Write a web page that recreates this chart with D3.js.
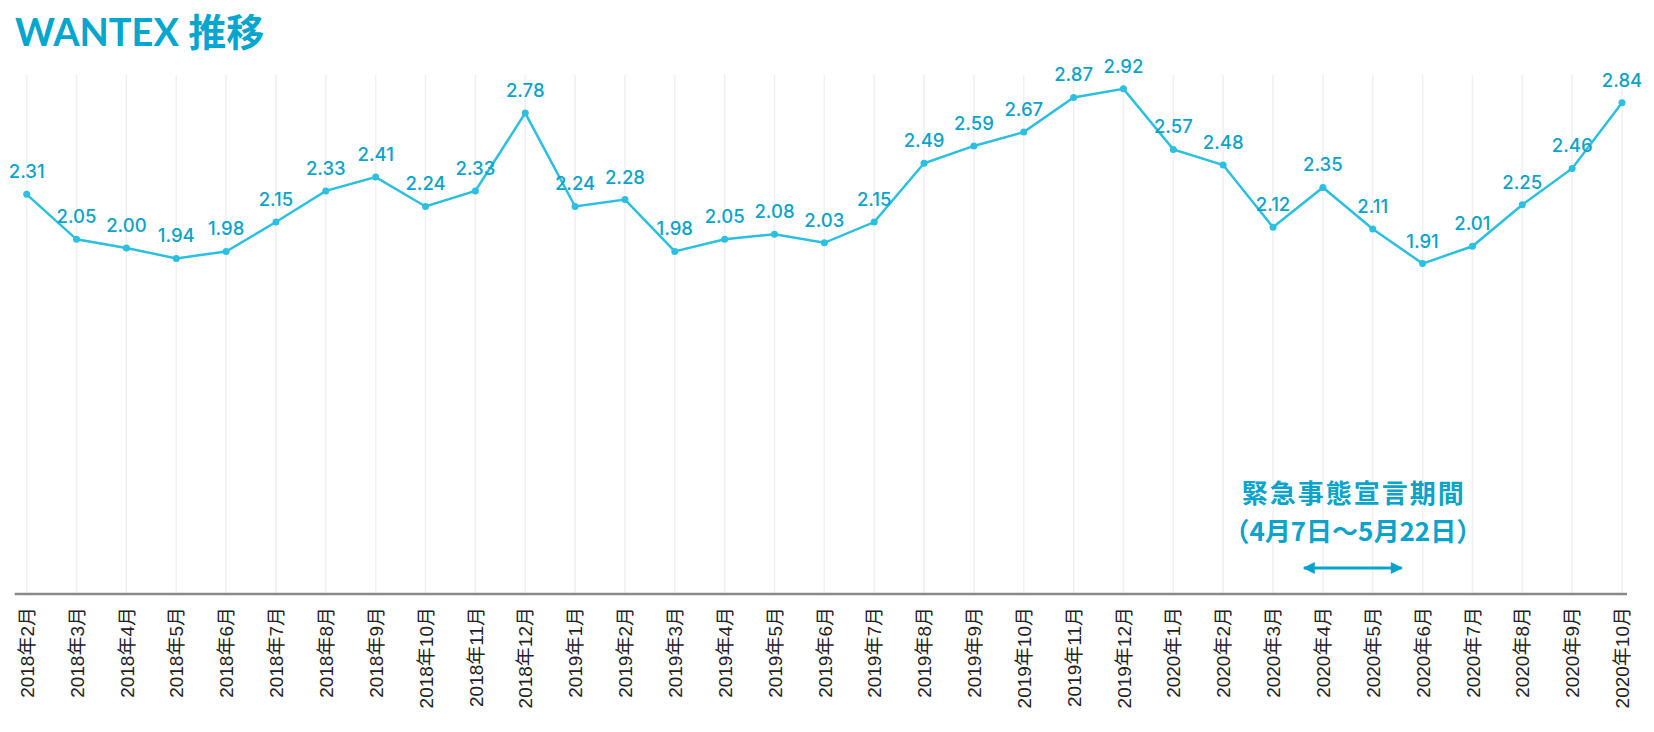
<!DOCTYPE html>
<html>
<head>
<meta charset="utf-8">
<script src="https://cdn.jsdelivr.net/npm/d3@7"></script>
<style>
  body { margin: 0; background: #fff; }
</style>
</head>
<body>
<div id="Canvas"></div>
<script>
// データ
let months = [
  "2018年2月","2018年3月","2018年4月","2018年5月","2018年6月","2018年7月",
  "2018年8月","2018年9月","2018年10月","2018年11月","2018年12月",
  "2019年1月","2019年2月","2019年3月","2019年4月","2019年5月","2019年6月",
  "2019年7月","2019年8月","2019年9月","2019年10月","2019年11月","2019年12月",
  "2020年1月","2020年2月","2020年3月","2020年4月","2020年5月","2020年6月",
  "2020年7月","2020年8月","2020年9月","2020年10月"
]
let values = [
  2.31, 2.05, 2.00, 1.94, 1.98, 2.15, 2.33, 2.41, 2.24, 2.33, 2.78,
  2.24, 2.28, 1.98, 2.05, 2.08, 2.03, 2.15, 2.49, 2.59, 2.67, 2.87, 2.92,
  2.57, 2.48, 2.12, 2.35, 2.11, 1.91, 2.01, 2.25, 2.46, 2.84
]
let title = "WANTEX 推移"
let noteLines = ["緊急事態宣言期間", "（4月7日〜5月22日）"]
// 矢印の範囲（月のインデックス、4/7〜5/22）
let arrowFrom = 25.62
let arrowTo = 27.58
let yMax = 3

let data = months.map((m, i) => ({ month: m, value: values[i] }))

let svg = d3.select("#Canvas")
    .append("svg")
    .attr("width", 1654)
    .attr("height", 732)

let xScale = d3.scalePoint()
    .domain(months)
    .range([26.7, 1622])
let yScale = d3.scaleLinear()
    .domain([0, yMax])
    .range([594, 75])
let idxX = (i) => xScale.range()[0] + i * xScale.step()

let lineColor = "#2bbfe0"
let textColor = "#0aa3c9"

// タイトル
svg.append("text")
    .attr("x", 15)
    .attr("y", 46)
    .attr("font-family", "Lato, 'Noto Sans CJK JP', sans-serif")
    .attr("font-weight", "bold")
    .attr("font-size", 38)
    .attr("fill", "#03a6cc")
    .text(title)

// 縦のグリッド線
svg.append("g")
    .selectAll("line")
    .data(months)
    .enter()
    .append("line")
    .attr("x1", d => xScale(d))
    .attr("x2", d => xScale(d))
    .attr("y1", yScale(yMax))
    .attr("y2", yScale(0))
    .attr("stroke", "#f0f0f0")
    .attr("stroke-width", 1.5)

// x軸
let xAxis = d3.axisBottom(xScale).tickSize(0).tickPadding(0)
let gx = svg.append("g")
    .attr("transform", `translate(0,${yScale(0)})`)
    .call(xAxis)
gx.select(".domain").remove()
gx.selectAll("text")
    .attr("font-family", "'Liberation Sans', 'Noto Sans CJK JP', sans-serif")
    .attr("font-size", 19)
    .attr("fill", "#222")
    .attr("text-anchor", "end")
    .attr("transform", "rotate(-90)")
    .attr("x", -13)
    .attr("y", 0)
    .attr("dy", "0.35em")
svg.append("line")
    .attr("x1", xScale.range()[0] - 12)
    .attr("x2", xScale.range()[1] + 5)
    .attr("y1", yScale(0))
    .attr("y2", yScale(0))
    .attr("stroke", "#8a8a8a")
    .attr("stroke-width", 2.5)

// 折れ線
let line = d3.line()
    .x(d => xScale(d.month))
    .y(d => yScale(d.value))
svg.append("path")
    .datum(data)
    .attr("d", line)
    .attr("fill", "none")
    .attr("stroke", lineColor)
    .attr("stroke-width", 2.5)

svg.selectAll("circle")
    .data(data)
    .enter()
    .append("circle")
    .attr("cx", d => xScale(d.month))
    .attr("cy", d => yScale(d.value))
    .attr("r", 3.5)
    .attr("fill", lineColor)

// 数値ラベル
svg.append("g")
    .selectAll("text")
    .data(data)
    .enter()
    .append("text")
    .attr("x", d => xScale(d.month))
    .attr("y", d => yScale(d.value) - 16)
    .attr("text-anchor", "middle")
    .attr("font-family", "Inter, Lato, sans-serif")
    .attr("font-weight", 500)
    .attr("font-size", 18.5)
    .attr("fill", textColor)
    .text(d => d.value.toFixed(2))

// 緊急事態宣言の注記
let noteX = (idxX(arrowFrom) + idxX(arrowTo)) / 2
svg.append("text")
    .attr("x", noteX + 1)
    .attr("y", 503)
    .attr("text-anchor", "middle")
    .attr("font-family", "'Noto Sans CJK JP', sans-serif")
    .attr("font-weight", "bold")
    .attr("font-size", 26)
    .attr("letter-spacing", 2)
    .attr("fill", textColor)
    .text(noteLines[0])
svg.append("text")
    .attr("x", noteX)
    .attr("y", 541)
    .attr("text-anchor", "middle")
    .attr("font-family", "'Noto Sans CJK JP', sans-serif")
    .attr("font-weight", "bold")
    .attr("font-size", 26)
    .attr("fill", textColor)
    .text(noteLines[1])

let defs = svg.append("defs")
defs.append("marker")
    .attr("id", "head")
    .attr("viewBox", "0 0 10 10")
    .attr("refX", 9)
    .attr("refY", 5)
    .attr("markerWidth", 4.5)
    .attr("markerHeight", 4)
    .attr("orient", "auto-start-reverse")
    .append("path")
    .attr("d", "M0,0 L10,5 L0,10 Z")
    .attr("fill", textColor)
svg.append("line")
    .attr("x1", idxX(arrowFrom))
    .attr("x2", idxX(arrowTo))
    .attr("y1", 568)
    .attr("y2", 568)
    .attr("stroke", textColor)
    .attr("stroke-width", 3)
    .attr("marker-start", "url(#head)")
    .attr("marker-end", "url(#head)")
</script>
</body>
</html>
